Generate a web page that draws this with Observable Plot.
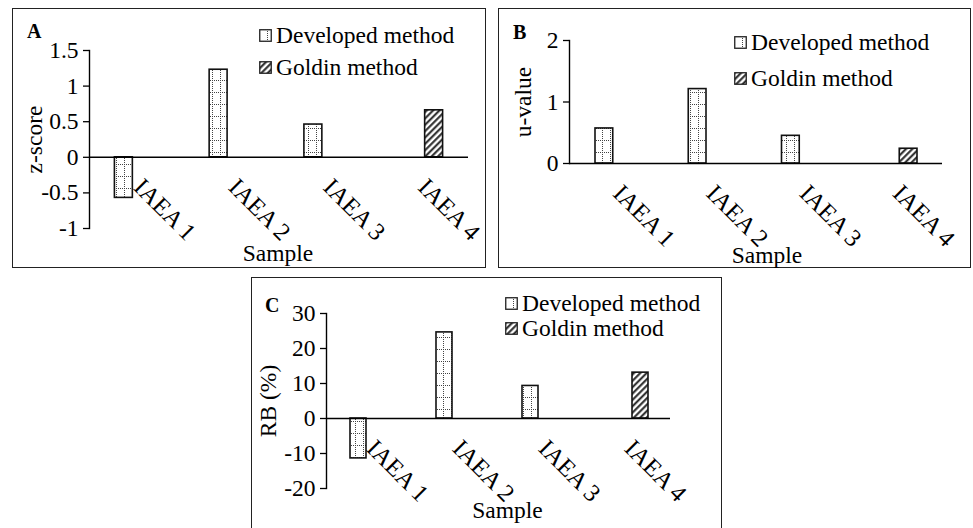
<!DOCTYPE html>
<html><head><meta charset="utf-8">
<script src="https://cdn.jsdelivr.net/npm/d3@7"></script>
<script src="https://cdn.jsdelivr.net/npm/@observablehq/plot@0.6"></script>
<style>
html,body{margin:0;padding:0;background:#fff;}
#root{position:relative;width:973px;height:528px;overflow:hidden;background:#fff;font-family:"Liberation Serif",Tinos,"DejaVu Serif",serif;color:#000;}
.box{position:absolute;border:1.5px solid #222;box-sizing:border-box;}
.plot{position:absolute;}
.plot svg{overflow:visible;display:block;}
.tag{position:absolute;font-weight:bold;font-size:20px;line-height:20px;}
.leg{position:absolute;display:flex;align-items:center;font-size:23.5px;line-height:26px;height:26px;white-space:nowrap;}
.leg svg{margin-right:4px;display:block;}
</style></head>
<body>
<svg width="0" height="0" style="position:absolute">
<defs>
<pattern id="pat-dev" patternUnits="userSpaceOnUse" width="8" height="12">
  <rect width="8" height="12" fill="#fff"/>
  <path d="M0.5 0V12 M0 0.5H8" stroke="#444" stroke-width="1" stroke-dasharray="1 1" fill="none"/>
</pattern>
<pattern id="pat-gold" patternUnits="userSpaceOnUse" width="4.5" height="4.5" patternTransform="rotate(45)">
  <rect width="4.5" height="4.5" fill="#fff"/>
  <line x1="1.2" y1="0" x2="1.2" y2="4.5" stroke="#222" stroke-width="2"/>
</pattern>
</defs></svg>
<div id="root"></div>
<script>
// ---- data ----
const samples = ["IAEA 1", "IAEA 2", "IAEA 3", "IAEA 4"];
const methods = ["Developed method", "Goldin method"];
// Panel A: z-score
const zDeveloped = [-0.57, 1.23, 0.46, null];
const zGoldin = [null, null, null, 0.66];
const zTicks = [-1, -0.5, 0, 0.5, 1, 1.5];
// Panel B: u-value
const uDeveloped = [0.57, 1.21, 0.45, null];
const uGoldin = [null, null, null, 0.24];
const uTicks = [0, 1, 2];
// Panel C: RB (%)
const rbDeveloped = [-11.4, 24.6, 9.3, null];
const rbGoldin = [null, null, null, 13.1];
const rbTicks = [-20, -10, 0, 10, 20, 30];

const FONT = '"Liberation Serif", Tinos, "DejaVu Serif", serif';
const FS = 23.5;
const root = document.getElementById("root");

function rows(values, method) {
  return samples.map((s, i) => ({sample: s, method, value: values[i]})).filter(d => d.value != null);
}

function addBox(l, t, w, h) {
  const b = document.createElement("div");
  b.className = "box";
  Object.assign(b.style, {left: l + "px", top: t + "px", width: w + "px", height: h + "px"});
  root.appendChild(b);
}

function legendSwatch(pat) {
  return `<svg width="13" height="13"><rect x="0.75" y="0.75" width="11.5" height="11.5" fill="url(#${pat})" stroke="#222" stroke-width="1.3"/></svg>`;
}

function panel(cfg) {
  addBox(cfg.left, cfg.top, cfg.w, cfg.boxH);
  const dev = rows(cfg.dev, methods[0]);
  const gold = rows(cfg.gold, methods[1]);
  const chart = Plot.plot({
    width: cfg.w, height: cfg.h,
    marginLeft: cfg.m[0], marginRight: cfg.m[1], marginTop: cfg.m[2], marginBottom: cfg.m[3],
    style: {fontFamily: FONT, fontSize: FS + "px", color: "#000", background: "transparent", overflow: "visible"},
    x: {type: "band", domain: samples, padding: 0, round: false, axis: null},
    y: {domain: cfg.yDomain, nice: false, axis: null},
    marks: [
      Plot.barY(dev, {x: "sample", y: "value", fill: "url(#pat-dev)", stroke: "#111", strokeWidth: 1.6,
        insetLeft: cfg.devInset[0], insetRight: cfg.devInset[1]}),
      Plot.barY(gold, {x: "sample", y: "value", fill: "url(#pat-gold)", stroke: "#111", strokeWidth: 1.6,
        insetLeft: cfg.goldInset[0], insetRight: cfg.goldInset[1]}),
      Plot.ruleY([0], {stroke: "#000", strokeWidth: 1.4}),
      Plot.frame({anchor: "left", stroke: "#000", strokeWidth: 1.4}),
      Plot.axisY({anchor: "left", ticks: cfg.ticks, tickFormat: d => String(d), tickSize: 6, tickPadding: 5,
        fontSize: FS, fontFamily: FONT, label: null, strokeWidth: 1.3}),
      Plot.text(samples, {x: d => d, y: () => 0, text: d => d, rotate: 45, textAnchor: "start",
        lineAnchor: "top", dy: 19, dx: 8, fontSize: 24.5, fontFamily: FONT, fill: "#000"}),
      Plot.text(["Sample"], {text: d => d, frameAnchor: "bottom", textAnchor: "middle", lineAnchor: "middle",
        dy: cfg.sampleDy, dx: cfg.sampleDx, fontSize: FS, fontFamily: FONT, fill: "#000"}),
      Plot.text([cfg.yTitle], {text: d => d, frameAnchor: "left", textAnchor: "middle", lineAnchor: "middle",
        rotate: -90, dx: cfg.titleDx, fontSize: FS, fontFamily: FONT, fill: "#000"})
    ]
  });
  const holder = document.createElement("div");
  holder.className = "plot";
  Object.assign(holder.style, {left: cfg.left + "px", top: cfg.top + "px"});
  holder.appendChild(chart);
  root.appendChild(holder);

  const tag = document.createElement("div");
  tag.className = "tag";
  tag.textContent = cfg.tag;
  Object.assign(tag.style, {left: cfg.tagPos[0] + "px", top: cfg.tagPos[1] + "px"});
  root.appendChild(tag);

  [["pat-dev", methods[0]], ["pat-gold", methods[1]]].forEach(([pat, name], i) => {
    const row = document.createElement("div");
    row.className = "leg";
    row.innerHTML = legendSwatch(pat) + `<span>${name}</span>`;
    Object.assign(row.style, {left: cfg.leg.x + "px", top: (cfg.leg.y[i] - 13) + "px"});
    root.appendChild(row);
  });
}

panel({
  tag: "A", left: 12, top: 8, w: 474, h: 260, boxH: 260,
  m: [77, 18, 42, 40], yDomain: [-1, 1.5], ticks: zTicks,
  dev: zDeveloped, gold: zGoldin, devInset: [25.4, 51.4], goldInset: [51.4, 25.4],
  yTitle: "z-score", titleDx: -55, sampleDy: 25, sampleDx: -1,
  tagPos: [27, 21], leg: {x: 259, y: [35, 67]}
});
panel({
  tag: "B", left: 498, top: 8, w: 473, h: 260, boxH: 260,
  m: [71, 29, 32, 105], yDomain: [0, 2], ticks: uTicks,
  dev: uDeveloped, gold: uGoldin, devInset: [26, 49.5], goldInset: [50.5, 25],
  yTitle: "u-value", titleDx: -46, sampleDy: 92, sampleDx: 11,
  tagPos: [513, 22], leg: {x: 734, y: [42, 78]}
});
panel({
  tag: "C", left: 251, top: 277, w: 471, h: 251, boxH: 262,
  m: [75, 52, 36, 40], yDomain: [-20, 30], ticks: rbTicks,
  dev: rbDeveloped, gold: rbGoldin, devInset: [24, 46], goldInset: [48, 22],
  yTitle: "RB (%)", titleDx: -58, sampleDy: 22, sampleDx: 9,
  tagPos: [265, 295], leg: {x: 505, y: [303, 328]}
});
</script>
</body></html>
